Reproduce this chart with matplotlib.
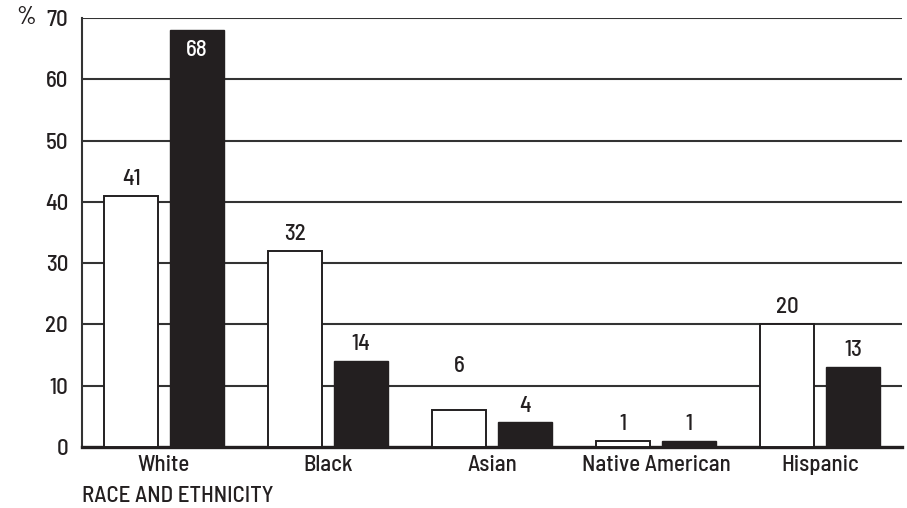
import numpy as np
import matplotlib.pyplot as plt

plt.rcParams['font.family'] = ['Barlow Semi Condensed', 'DejaVu Sans']
plt.rcParams['font.weight'] = 500

# -------------------------------------------------
# Data
# -------------------------------------------------
categories = ['White', 'Black', 'Asian', 'Native American', 'Hispanic']
series_a = [41, 32, 6, 1, 20]    # open bars
series_b = [68, 14, 4, 1, 13]    # filled bars
y_ticks = [0, 10, 20, 30, 40, 50, 60, 70]

dark = '#231f20'
width = 0.33
off = 0.2
fs = 16.5

fig = plt.figure(figsize=(9.07, 5.08), dpi=100)
ax = fig.add_axes([82/907, 61/508, 820/907, 429/508])

x = np.arange(len(categories))
bars_a = ax.bar(x - off, series_a, width, color='white', edgecolor=dark,
                linewidth=1.4, zorder=3)
bars_b = ax.bar(x + off, series_b, width, color=dark, edgecolor=dark,
                linewidth=1.0, zorder=3)

# gridlines
for t in y_ticks[1:]:
    ax.axhline(t, color='#333333', lw=1.5, zorder=1)

ax.set_xlim(-0.5, 4.5)
ax.set_ylim(0, 70)
ax.set_yticks(y_ticks)
ax.set_xticks(x)
ax.set_xticklabels(categories)
ax.tick_params(axis='both', length=0, labelsize=fs, colors=dark)
ax.tick_params(axis='y', pad=10)
ax.tick_params(axis='x', pad=6)

for s in ['top', 'right']:
    ax.spines[s].set_visible(False)
ax.spines['left'].set_linewidth(1.5)
ax.spines['left'].set_color('#333333')
ax.spines['bottom'].set_linewidth(2.4)
ax.spines['bottom'].set_color(dark)

# value labels
extra = {2: 20}   # Asian open bar label sits above the 10 line
for i, b in enumerate(bars_a):
    ax.annotate(str(series_a[i]), (b.get_x() + b.get_width()/2, b.get_height()),
                xytext=(0, 5 + extra.get(i, 0)), textcoords='offset points',
                ha='center', va='bottom', fontsize=fs, color=dark)
for i, b in enumerate(bars_b):
    if series_b[i] > 50:
        ax.annotate(str(series_b[i]), (b.get_x() + b.get_width()/2, b.get_height()),
                    xytext=(0, -7), textcoords='offset points',
                    ha='center', va='top', fontsize=fs, color='white')
    else:
        ax.annotate(str(series_b[i]), (b.get_x() + b.get_width()/2, b.get_height()),
                    xytext=(0, 5), textcoords='offset points',
                    ha='center', va='bottom', fontsize=fs, color=dark)

fig.text(26/907, 1 - 18/508, '%', fontsize=fs + 1, ha='center', va='center', color=dark)
fig.text(82/907, 1 - 496/508, 'RACE AND ETHNICITY', fontsize=fs, ha='left',
         va='center', color=dark)

fig.savefig('out.png', dpi=100)
